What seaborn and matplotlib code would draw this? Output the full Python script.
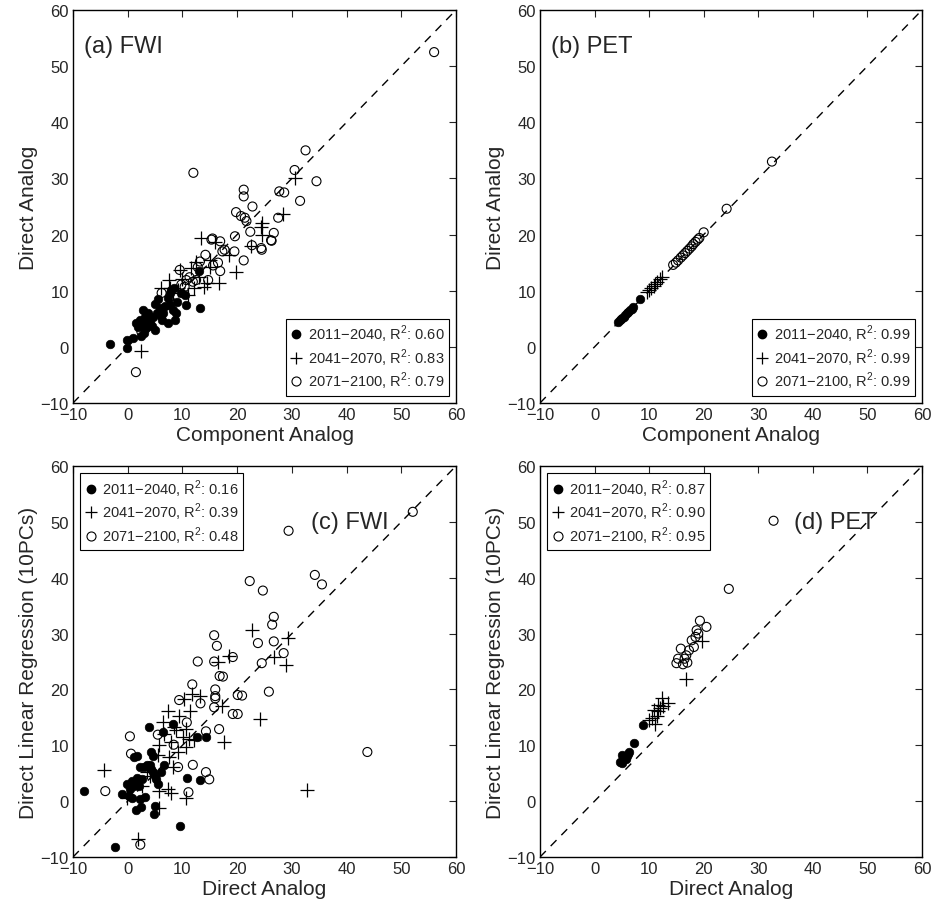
import numpy as np
import pandas as pd
import matplotlib
matplotlib.use('Agg')
import matplotlib.pyplot as plt
from matplotlib.lines import Line2D
import seaborn as sns

# ---- data ----
periods = ['2011\u22122040', '2041\u22122070', '2071\u22122100']

# (a) FWI: component analog vs direct analog
a_x1 = [-3.3, -0.2, -0.2, 0.9, 1.6, 1.9, 2.2, 2.8, 2.8, 3.1, 3.4, 3.7, 4.0, 4.6, 4.9, 4.9, 5.3, 5.9, 6.3, 6.5, 6.8,
        7.4, 7.4, 7.7, 7.7, 8.0, 8.3, 8.6, 8.9, 9.8, 10.4, 10.7, 13.2, 13.0, 2.5, 3.0, 3.5, 4.5, 6.0, 5.5, 9.0, 8.5]
a_y1 = [0.5, 1.2, -0.2, 1.5, 4.2, 3.6, 4.8, 3.6, 6.6, 5.4, 3.3, 6.0, 4.2, 5.4, 3.0, 7.7, 6.0, 6.9, 4.8, 6.0, 7.2,
        4.2, 8.7, 7.5, 9.6, 10.2, 6.6, 4.8, 6.0, 9.6, 9.3, 7.5, 7.0, 13.5, 2.0, 2.5, 4.5, 3.8, 5.5, 8.5, 8.0, 10.5]
a_x2 = [2.5, 7.5, 7.7, 8.3, 9.2, 11.0, 11.6, 12.2, 12.4, 13.4, 14.0, 14.4, 15.0, 15.0, 16.0, 16.6, 18.5, 19.8,
        22.6, 24.4, 24.6, 24.6, 28.3, 30.5, 9.5, 6.0, 10.0, 13.0]
a_y2 = [-0.8, 11.9, 10.5, 9.6, 10.2, 9.3, 14.0, 10.5, 15.2, 19.4, 10.7, 11.3, 15.5, 14.2, 18.7, 11.3, 16.4, 13.3,
        18.0, 21.4, 22.0, 20.0, 23.6, 30.0, 13.7, 10.5, 12.0, 12.5]
a_x3 = [1.5, 2.5, 6.2, 9.5, 9.8, 10.4, 11.3, 10.7, 11.9, 12.5, 12.8, 13.2, 14.2, 14.7, 15.3, 15.6, 16.5, 16.9, 16.9,
        17.3, 17.7, 19.5, 19.6, 21.2, 22.4, 22.7, 24.5, 26.3, 26.7, 19.8, 20.7, 21.4, 21.7, 22.8, 21.2, 21.2, 27.5,
        27.7, 28.6, 31.5, 30.5, 32.5, 34.5, 12.0, 56.0, 15.5, 26.2, 24.4]
a_y3 = [-4.5, 2.7, 9.6, 13.7, 11.1, 10.7, 12.4, 11.9, 11.6, 11.9, 14.2, 15.2, 16.4, 11.9, 19.1, 14.5, 15.0, 13.5, 18.8,
        17.0, 17.3, 17.0, 19.7, 15.4, 20.5, 18.1, 17.3, 18.9, 20.3, 24.0, 23.3, 23.0, 22.4, 25.0, 28.0, 26.8, 23.0,
        27.7, 27.5, 26.0, 31.5, 35.0, 29.5, 31.0, 52.5, 19.3, 19.0, 17.6]
a_r2 = ['0.60', '0.83', '0.79']

# (b) PET: component analog vs direct analog
b_x1 = [4.3, 4.6, 4.9, 5.1, 5.4, 5.6, 5.9, 6.2, 6.5, 6.8, 7.0, 8.4]
b_y1 = [4.4, 4.7, 4.9, 5.2, 5.3, 5.7, 6.0, 6.2, 6.6, 6.8, 7.1, 8.5]
b_x2 = [9.6, 10.0, 10.4, 10.8, 11.1, 11.5, 11.9, 12.3]
b_y2 = [9.8, 10.1, 10.5, 10.8, 11.2, 11.6, 12.0, 12.4]
b_x3 = [14.4, 14.9, 15.3, 15.8, 16.2, 16.6, 17.0, 17.4, 17.8, 18.1, 18.5, 18.9, 19.2, 20.0, 24.2, 32.5]
b_y3 = [14.6, 15.0, 15.4, 15.9, 16.3, 16.7, 17.1, 17.5, 17.9, 18.3, 18.7, 19.1, 19.4, 20.4, 24.6, 33.0]
b_r2 = ['0.99', '0.99', '0.99']

# (c) FWI: direct analog vs direct linear regression
c_x1 = [-7.9, -2.3, -1.1, -0.1, 0.8, 0.5, 1.1, 1.4, 0.2, 0.8, 1.5, 2.4, 2.3, 3.2, 1.1, 1.7, 2.3, 2.9, 3.5, 4.0, 4.3,
        4.6, 4.9, 5.2, 5.5, 1.7, 2.6, 2.0, 4.2, 4.6, 3.9, 6.4, 6.7, 6.1, 4.9, 4.8, 8.2, 9.5, 10.9, 12.7, 14.3, 13.2]
c_y1 = [1.8, -8.2, 1.2, 3.0, 3.6, 2.1, 2.7, 3.3, 0.9, 0.5, -1.5, -1.0, 0.3, 0.8, 7.9, 8.1, 6.1, 6.2, 6.5, 6.4, 5.8,
        5.2, 4.5, 3.9, 3.0, 4.2, 3.9, 2.7, 8.8, 8.1, 13.3, 12.3, 6.4, 5.2, -0.9, -2.3, 13.8, -4.4, 4.1, 11.4, 11.4, 3.8]
c_x2 = [-4.3, -0.1, 1.8, 2.7, 3.5, 4.0, 5.7, 5.5, 5.8, 7.3, 7.9, 5.8, 6.4, 6.6, 7.3, 7.9, 7.6, 8.2, 8.5, 9.4, 8.8,
        9.1, 10.1, 10.6, 11.2, 11.3, 10.3, 11.8, 13.3, 10.6, 12.1, 10.6, 16.5, 18.6, 17.3, 17.6, 22.8, 29.3, 26.8,
        28.9, 24.1, 32.8]
c_y2 = [5.6, 0.6, -6.7, 2.8, 5.2, 4.5, 10.0, 8.2, 1.8, 2.2, 1.5, -1.2, 14.2, 12.1, 16.1, 10.6, 7.9, 6.1, 13.3, 15.2,
        12.7, 8.8, 11.5, 13.0, 11.2, 16.1, 18.2, 19.1, 18.8, 9.7, 10.9, 0.5, 25.0, 25.9, 17.0, 10.6, 30.7, 29.2, 25.8,
        24.4, 14.7, 2.0]
c_x3 = [-4.1, 0.4, 0.6, 2.3, 5.5, 8.4, 9.2, 10.8, 11.1, 11.9, 9.4, 11.8, 12.8, 13.3, 14.3, 14.3, 14.9, 15.8, 16.3,
        15.8, 16.8, 17.4, 16.0, 16.0, 16.0, 15.8, 16.7, 19.2, 19.2, 20.1, 52.1, 29.4, 34.2, 35.5, 22.3, 24.7, 26.7,
        26.4, 26.7, 23.8, 28.5, 24.5, 20.9, 25.8, 20.1, 43.8]
c_y3 = [1.8, 11.6, 8.5, -7.8, 11.9, 10.1, 6.1, 14.1, 1.6, 6.5, 18.1, 20.9, 25.0, 17.5, 12.5, 5.2, 3.9, 29.7, 27.8,
        25.0, 22.4, 22.3, 20.0, 18.8, 18.4, 16.8, 12.9, 25.8, 15.6, 19.0, 51.8, 48.4, 40.5, 38.8, 39.4, 37.7, 33.0,
        31.6, 28.6, 28.3, 26.5, 24.7, 18.9, 19.6, 15.6, 8.8]
c_r2 = ['0.16', '0.39', '0.48']

# (d) PET: direct analog vs direct linear regression
d_x1 = [4.7, 5.3, 5.6, 6.2, 6.4, 5.0, 5.8, 5.1, 5.9, 7.3, 8.8]
d_y1 = [7.0, 7.3, 7.9, 8.5, 8.8, 8.2, 7.6, 6.8, 8.0, 10.4, 13.6]
d_x2 = [12.3, 11.7, 12.6, 13.5, 10.8, 10.5, 11.1, 11.7, 9.9, 11.4, 12.0, 16.8, 19.6]
d_y2 = [18.5, 17.3, 17.0, 17.6, 16.4, 14.8, 13.9, 16.1, 14.5, 15.2, 16.7, 21.8, 28.7]
d_x3 = [19.3, 20.5, 18.7, 19.0, 18.5, 17.8, 18.2, 15.8, 15.3, 15.0, 16.5, 16.8, 17.0, 16.2, 17.3, 24.6, 32.8]
d_y3 = [32.3, 31.2, 30.6, 30.0, 29.4, 28.8, 27.6, 27.3, 25.5, 24.7, 25.5, 26.1, 24.8, 24.5, 27.0, 38.0, 50.2]
d_r2 = ['0.87', '0.90', '0.95']

ticks = [-10, 0, 10, 20, 30, 40, 50, 60]

sns.set_style('white')
plt.rcParams['font.family'] = ['Liberation Sans', 'DejaVu Sans']
plt.rcParams['mathtext.fontset'] = 'custom'
plt.rcParams['mathtext.rm'] = 'Liberation Sans'

fig = plt.figure(figsize=(9.33, 9.03), dpi=100)
W, H = 933, 903


def add_axes(left, top, right, bottom):
    return fig.add_axes([left / W, 1 - bottom / H, (right - left) / W, (bottom - top) / H])


ax_a = add_axes(73, 11, 456, 404)
ax_b = add_axes(540, 11, 922, 404)
ax_c = add_axes(73, 467, 456, 858)
ax_d = add_axes(540, 467, 922, 858)

panels = [
    (ax_a, a_x1, a_y1, a_x2, a_y2, a_x3, a_y3, a_r2, '(a) FWI', (-8, 53.5), 'lower right',
     'Component Analog', 'Direct Analog'),
    (ax_b, b_x1, b_y1, b_x2, b_y2, b_x3, b_y3, b_r2, '(b) PET', (-8, 53.5), 'lower right',
     'Component Analog', 'Direct Analog'),
    (ax_c, c_x1, c_y1, c_x2, c_y2, c_x3, c_y3, c_r2, '(c) FWI', (33.5, 50), 'upper left',
     'Direct Analog', 'Direct Linear Regression (10PCs)'),
    (ax_d, d_x1, d_y1, d_x2, d_y2, d_x3, d_y3, d_r2, '(d) PET', (36.5, 50), 'upper left',
     'Direct Analog', 'Direct Linear Regression (10PCs)'),
]

for ax, x1, y1, x2, y2, x3, y3, r2, title, tpos, lloc, xlab, ylab in panels:
    ax.plot([-10, 60], [-10, 60], linestyle=(0, (6, 5)), color='black', linewidth=1.0, zorder=1)
    sns.scatterplot(x=x1, y=y1, ax=ax, marker='o', color='black', edgecolor='black', s=38, zorder=3)
    sns.scatterplot(x=x2, y=y2, ax=ax, marker='+', color='black', s=90, linewidth=0.9, zorder=3)
    sns.scatterplot(x=x3, y=y3, ax=ax, marker='o', facecolor='none', edgecolor='black', s=42,
                    linewidth=0.8, zorder=3)
    ax.set_xlim(-10, 60)
    ax.set_ylim(-10, 60)
    ax.set_xticks(ticks)
    ax.set_yticks(ticks)
    ax.set_xticklabels(['\u221210'] + [str(t) for t in ticks[1:]])
    ax.set_yticklabels(['\u221210'] + [str(t) for t in ticks[1:]])
    ax.tick_params(direction='in', top=True, right=True, length=5, width=0.8, labelsize=12, pad=3)
    for sp in ax.spines.values():
        sp.set_color('black')
        sp.set_linewidth(1.0)
    ax.set_xlabel(xlab, fontsize=15, labelpad=2)
    ax.set_ylabel(ylab, fontsize=15, labelpad=2)
    ax.text(tpos[0], tpos[1], title, fontsize=17, va='center', ha='left')

    handles = [
        Line2D([], [], marker='o', linestyle='none', color='black', markersize=6),
        Line2D([], [], marker='+', linestyle='none', color='black', markersize=8, markeredgewidth=0.9),
        Line2D([], [], marker='o', linestyle='none', markerfacecolor='none', markeredgecolor='black',
               markersize=6.5, markeredgewidth=0.8),
    ]
    labels = [f'{p}, R$^2$: {r}' for p, r in zip(periods, r2)]
    leg = ax.legend(handles, labels, loc=lloc, fontsize=10.5, frameon=True, fancybox=False,
                    edgecolor='black', framealpha=1, handlelength=0.8, handletextpad=0.4,
                    borderpad=0.3, labelspacing=0.15, borderaxespad=0.5)
    leg.get_frame().set_linewidth(0.8)

plt.savefig('out.png', dpi=100)
